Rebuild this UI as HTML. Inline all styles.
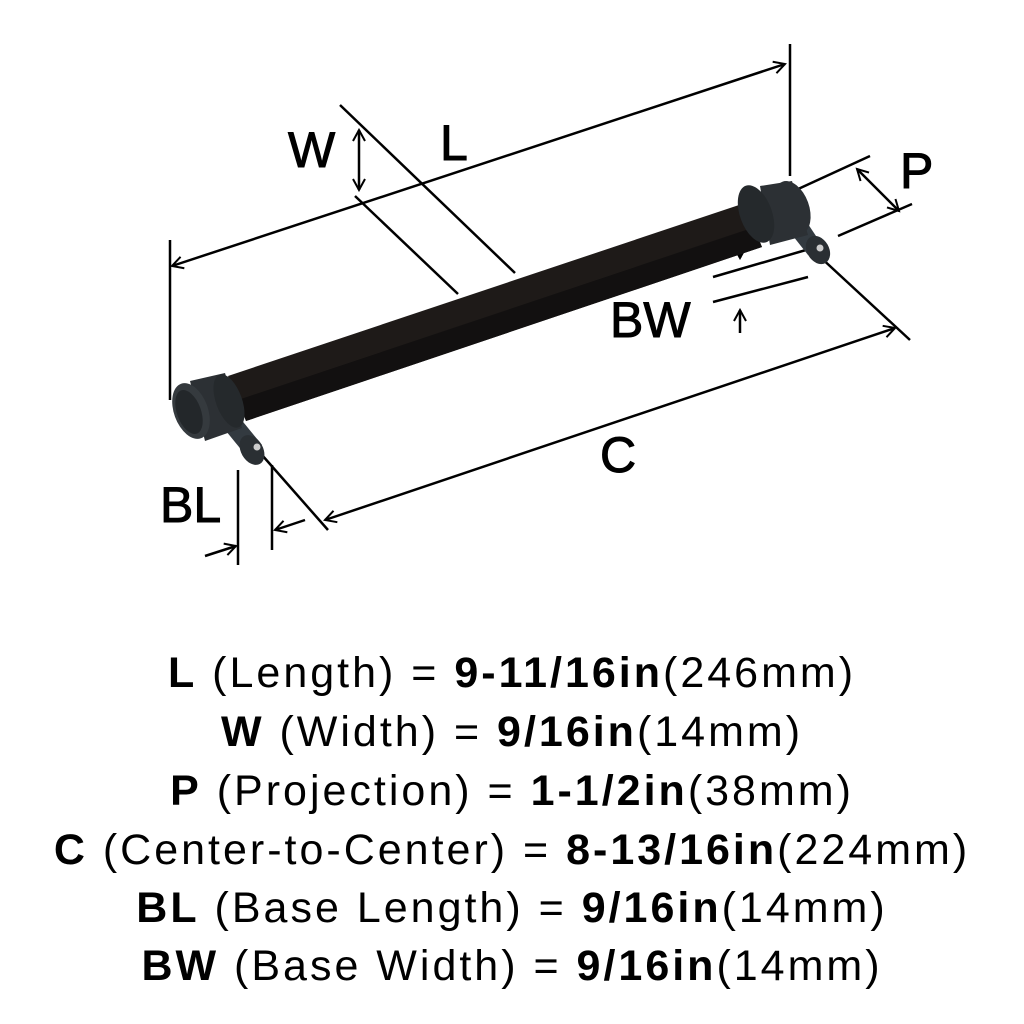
<!DOCTYPE html>
<html><head><style>
body{margin:0;background:#fff;width:1024px;height:1024px;overflow:hidden}
svg{display:block}
</style></head><body>
<svg width="1024" height="1024" viewBox="0 0 1024 1024" xmlns="http://www.w3.org/2000/svg">
<defs>
<marker id="a" markerWidth="14" markerHeight="14" refX="12" refY="7" orient="auto-start-reverse" markerUnits="userSpaceOnUse">
<path d="M1,1 L12,7 L1,13" fill="none" stroke="#000" stroke-width="2"/>
</marker>
</defs>
<g stroke="#000" stroke-width="2.5" fill="none">
<line x1="172" y1="266" x2="785" y2="64" marker-start="url(#a)" marker-end="url(#a)"/>
<line x1="170" y1="240" x2="170" y2="400"/>
<line x1="790" y1="44" x2="790" y2="176"/>
<line x1="340" y1="105" x2="515" y2="273"/>
<line x1="355" y1="196" x2="458" y2="294"/>
<line x1="359" y1="130" x2="359" y2="190" marker-start="url(#a)" marker-end="url(#a)"/>
<line x1="796" y1="190" x2="870" y2="156"/>
<line x1="838" y1="236" x2="912" y2="204"/>
<line x1="857" y1="169" x2="899" y2="211" marker-start="url(#a)" marker-end="url(#a)"/>
<line x1="713" y1="277" x2="806" y2="250"/>
<line x1="713" y1="302" x2="808" y2="277"/>
<line x1="740" y1="228" x2="740" y2="258" marker-end="url(#a)"/>
<line x1="740" y1="333" x2="740" y2="310" marker-end="url(#a)"/>
<line x1="325" y1="520" x2="895" y2="328" marker-start="url(#a)" marker-end="url(#a)"/>
<line x1="818" y1="255" x2="910" y2="340"/>
<line x1="262" y1="455" x2="328" y2="530"/>
<line x1="238" y1="470" x2="238" y2="565"/>
<line x1="272" y1="465" x2="272" y2="550"/>
<line x1="205" y1="556" x2="236" y2="546" marker-end="url(#a)"/>
<line x1="305" y1="520" x2="275" y2="530" marker-end="url(#a)"/>
</g>
<g>
<polygon points="228,376 745,203 762,247 246,421" fill="#1e1a18"/>
<polygon points="238,400 752,228 762,247 246,421" fill="#121010"/>
<polygon points="782,222 800,212 822,245 808,255" fill="#333a40"/>
<ellipse cx="818" cy="250" rx="11" ry="15" transform="rotate(-30 818 250)" fill="#2a2f33"/>
<circle cx="820" cy="248" r="3.5" fill="#ccc"/>
<polygon points="760,186 792,181 808,235 770,245" fill="#2c3034"/>
<ellipse cx="756" cy="214" rx="16" ry="30" transform="rotate(-20 756 214)" fill="#25292c"/>
<ellipse cx="792" cy="208" rx="17" ry="28" transform="rotate(-20 792 208)" fill="#2c3034"/>
<polygon points="217,420 235,412 262,445 248,458" fill="#333a40"/>
<ellipse cx="252" cy="450" rx="11" ry="16" transform="rotate(-30 252 450)" fill="#2a2f33"/>
<circle cx="257" cy="447" r="3.5" fill="#ccc"/>
<polygon points="190,381 225,373 242,428 205,441" fill="#2c3034"/>
<ellipse cx="229" cy="401" rx="13" ry="28" transform="rotate(-20 229 401)" fill="#25292c"/>
<ellipse cx="191" cy="411" rx="17" ry="29" transform="rotate(-20 191 411)" fill="#353a3e"/>
<ellipse cx="189" cy="412" rx="12" ry="23" transform="rotate(-20 189 412)" fill="#23272a"/>
</g>
<g font-family="Liberation Sans, sans-serif" font-size="50" fill="#000" stroke="#000" stroke-width="1">
<text x="288" y="167">W</text>
<text x="440" y="160">L</text>
<text x="900" y="188">P</text>
<text x="610" y="337">BW</text>
<text x="600" y="472">C</text>
<text x="160" y="522">BL</text>
</g>
<g font-family="Liberation Sans, sans-serif" font-size="43" fill="#000" text-anchor="middle" letter-spacing="3">
<text x="512" y="687"><tspan font-weight="bold">L</tspan> (Length) = <tspan font-weight="bold">9-11/16in</tspan>(246mm)</text>
<text x="512" y="746"><tspan font-weight="bold">W</tspan> (Width) = <tspan font-weight="bold">9/16in</tspan>(14mm)</text>
<text x="512" y="805"><tspan font-weight="bold">P</tspan> (Projection) = <tspan font-weight="bold">1-1/2in</tspan>(38mm)</text>
<text x="512" y="864"><tspan font-weight="bold">C</tspan> (Center-to-Center) = <tspan font-weight="bold">8-13/16in</tspan>(224mm)</text>
<text x="512" y="922"><tspan font-weight="bold">BL</tspan> (Base Length) = <tspan font-weight="bold">9/16in</tspan>(14mm)</text>
<text x="512" y="980"><tspan font-weight="bold">BW</tspan> (Base Width) = <tspan font-weight="bold">9/16in</tspan>(14mm)</text>
</g>
</svg>
</body></html>
